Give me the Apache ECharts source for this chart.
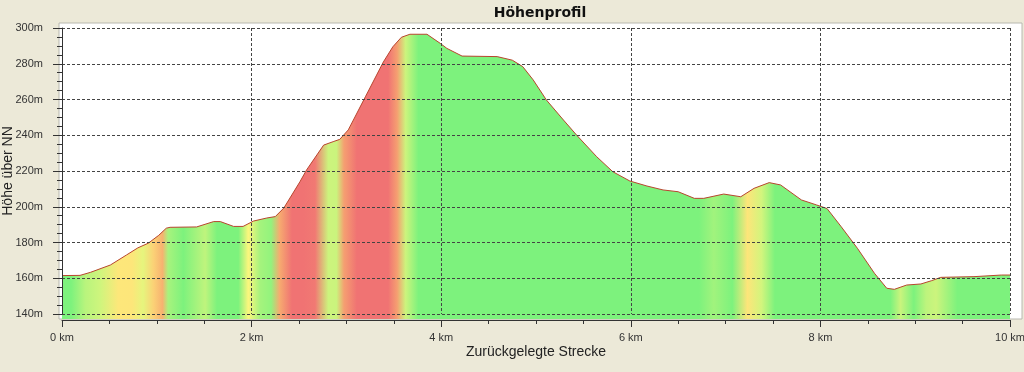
<!DOCTYPE html>
<html><head><meta charset="utf-8">
<script src="https://cdn.jsdelivr.net/npm/echarts@6/dist/echarts.min.js"></script>
<style>html,body{margin:0;padding:0;background:#ece9d8}#c{width:1024px;height:372px}</style>
</head><body><div id="c"></div>
<script>
// Distance along the route (km)
const distanceKm = [0.00,0.19,0.30,0.51,0.68,0.80,0.91,1.02,1.10,1.14,1.42,1.60,1.67,1.81,1.91,2.02,2.16,2.25,2.34,2.51,2.58,2.76,2.86,2.93,3.02,3.20,3.39,3.49,3.58,3.67,3.85,3.99,4.06,4.22,4.59,4.75,4.86,4.97,5.11,5.29,5.43,5.64,5.81,5.99,6.17,6.34,6.50,6.67,6.77,6.98,7.16,7.30,7.46,7.58,7.80,7.96,8.07,8.22,8.39,8.57,8.70,8.78,8.91,9.06,9.17,9.27,9.62,9.91,10.00];
// Elevation (m above NN)
const elevationM = [161.5,161.6,163.3,167.4,173.0,177.0,179.6,184.0,188.0,188.5,188.7,191.7,191.7,189.0,189.0,192.0,193.7,194.5,199.3,214.0,220.6,234.5,236.4,237.7,243.0,261.5,281.0,289.5,294.8,296.5,296.5,291.4,288.6,284.3,284.0,282.0,278.4,271.0,259.7,248.5,240.0,228.0,219.6,214.4,211.6,209.4,208.4,204.7,204.7,207.1,205.6,210.3,213.5,212.2,203.8,201.0,199.0,188.8,176.8,162.8,154.4,153.8,156.2,156.8,158.6,160.5,160.9,161.8,161.8];
const xMin = 0, xMax = 10, xStep = 2;
const yMin = 140, yMax = 300, yStep = 20;
const titleText = 'Höhenprofil';
const xName = 'Zurückgelegte Strecke';
const yName = 'Höhe über NN';

// grade (%) -> colour
const GREEN=[125,242,125], YELLOW=[255,246,125], ORANGE=[247,178,112], RED=[240,115,115];
const gradeStops=[[0.5,GREEN],[2.8,YELLOW],[5,ORANGE],[8,RED]];
function mix(a,b,t){return a.map((v,i)=>Math.round(v+(b[i]-v)*t));}
function gradeColor(g){
  let c;
  if(g<=gradeStops[0][0]) c=gradeStops[0][1];
  else if(g>=gradeStops[gradeStops.length-1][0]) c=gradeStops[gradeStops.length-1][1];
  else{
    for(let i=0;i<gradeStops.length-1;i++){
      const [g0,c0]=gradeStops[i],[g1,c1]=gradeStops[i+1];
      if(g>=g0&&g<=g1){c=mix(c0,c1,(g-g0)/(g1-g0));break;}
    }
  }
  return 'rgb('+c.join(',')+')';
}
const span = distanceKm[distanceKm.length-1]-distanceKm[0];
const stops=[];
for(let i=0;i<distanceKm.length-1;i++){
  const g=(elevationM[i+1]-elevationM[i])/((distanceKm[i+1]-distanceKm[i])*1000)*100;
  const mid=((distanceKm[i]+distanceKm[i+1])/2-distanceKm[0])/span;
  const col=gradeColor(g);
  if(i===0) stops.push({offset:0,color:col});
  stops.push({offset:mid,color:col});
  if(i===distanceKm.length-2) stops.push({offset:1,color:col});
}
const seriesData = distanceKm.map((d,i)=>[d,elevationM[i]]);

const chart = echarts.init(document.getElementById('c'),null,{renderer:'canvas'});
const labelFont = {fontFamily:'Liberation Sans',fontSize:11,color:'#333'};
chart.setOption({
  backgroundColor:'#ece9d8',
  animation:false,
  title:{text:titleText,left:535,top:1,textAlign:'center',
    textStyle:{fontFamily:'DejaVu Sans',fontWeight:'bold',fontSize:14,color:'#111'}},
  graphic:[{type:'rect',z:-10,silent:true,shape:{x:59,y:23,width:963,height:296},
    style:{fill:'#ffffff',stroke:'#b8b8b0',lineWidth:1}}],
  grid:{left:62,right:14,top:28,bottom:58,containLabel:false,outerBoundsMode:'none'},
  xAxis:{type:'value',min:xMin,max:xMax,interval:xStep,offset:6,z:5,
    name:xName,nameLocation:'middle',nameGap:25,nameMoveOverlap:false,
    nameTextStyle:{fontFamily:'Liberation Sans',fontSize:14,color:'#222'},
    axisLine:{show:true,lineStyle:{color:'#333',width:1}},
    axisTick:{show:true,length:7,lineStyle:{color:'#333'}},
    minorTick:{show:true,splitNumber:4,length:4,lineStyle:{color:'#333'}},
    axisLabel:Object.assign({formatter:'{value} km',margin:12},labelFont),
    splitLine:{show:true,lineStyle:{color:'#444',type:[3,2],width:1}}},
  yAxis:{type:'value',min:yMin,max:yMax,interval:yStep,offset:4,z:5,
    name:yName,nameLocation:'middle',nameGap:43,nameRotate:90,nameMoveOverlap:false,
    nameTextStyle:{fontFamily:'Liberation Sans',fontSize:14,color:'#222'},
    axisLine:{show:true,lineStyle:{color:'#333',width:1}},
    axisTick:{show:true,length:9,lineStyle:{color:'#333'}},
    minorTick:{show:true,splitNumber:4,length:5,lineStyle:{color:'#333'}},
    axisLabel:Object.assign({formatter:'{value}m',margin:15},labelFont),
    splitLine:{show:true,lineStyle:{color:'#444',type:[3,2],width:1}}},
  series:[{type:'line',data:seriesData,showSymbol:false,symbol:'none',clip:false,z:2,
    lineStyle:{color:'#b8452e',width:1},
    areaStyle:{opacity:1,origin:137.2,color:new echarts.graphic.LinearGradient(0,0,1,0,stops)}}]
});
</script></body></html>
